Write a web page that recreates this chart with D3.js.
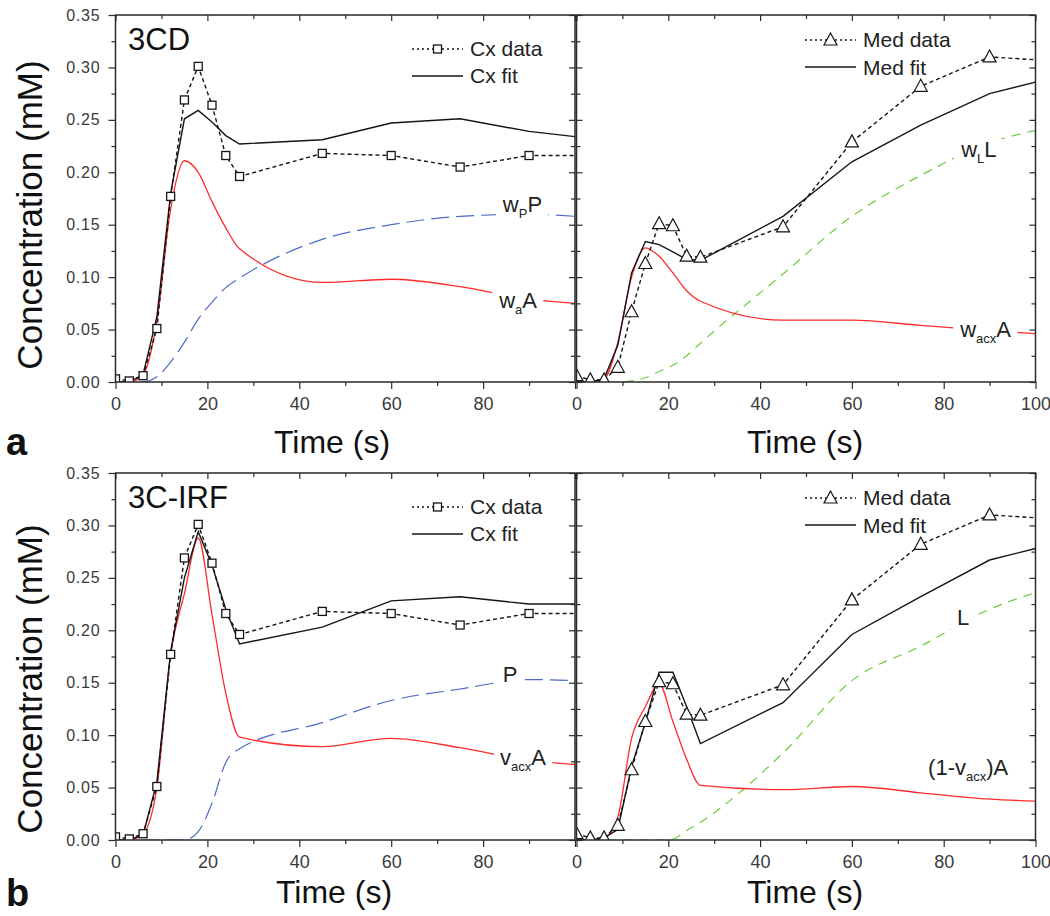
<!DOCTYPE html>
<html><head><meta charset="utf-8">
<script src="https://cdn.jsdelivr.net/npm/d3@7"></script>
<style>
body{margin:0;background:#fff}
svg{display:block}
text{font-family:"Liberation Sans",Arial,Helvetica,sans-serif}
</style>
</head><body>
<script>
// ---------------- DATA ----------------
const tData   = [0, 3, 6, 9, 12, 15, 18, 21, 24, 27, 45, 60, 75, 90, 105];
const cxData  = [0.003, 0.001, 0.006, 0.051, 0.177, 0.269, 0.301, 0.264, 0.216, 0.196, 0.218, 0.216, 0.205, 0.216, 0.216];
const medData = [0.006, 0.002, 0.002, 0.014, 0.067, 0.113, 0.151, 0.149, 0.120, 0.119, 0.148, 0.229, 0.282, 0.310, 0.306];

const tFit = [0, 3, 6, 9, 12, 15, 18, 21, 24, 27, 45, 60, 75, 90, 100];
// 3CD
const cxFit3CD  = [0, 0, 0.007, 0.062, 0.180, 0.251, 0.259, 0.248, 0.235, 0.227, 0.231, 0.247, 0.251, 0.239, 0.234];
const waA3CD    = [0, 0, 0.007, 0.058, 0.165, 0.211, 0.200, 0.172, 0.147, 0.127, 0.095, 0.098, 0.091, 0.079, 0.075];
const wpP3CD    = [0, 0, 0, 0.005, 0.019, 0.038, 0.060, 0.076, 0.090, 0.099, 0.136, 0.150, 0.158, 0.160, 0.158];
const medFit3CD = [0, 0, 0.003, 0.035, 0.104, 0.134, 0.131, 0.124, 0.117, 0.116, 0.158, 0.210, 0.245, 0.275, 0.286];
const wacxA3CD  = [0, 0, 0.003, 0.038, 0.100, 0.128, 0.120, 0.104, 0.087, 0.077, 0.059, 0.059, 0.054, 0.049, 0.046];
const wLL3CD    = [0, 0, 0, 0, 0.001, 0.004, 0.010, 0.016, 0.025, 0.037, 0.103, 0.158, 0.197, 0.228, 0.240];
// 3C-IRF
const cxFitIRF  = [0, 0, 0.005, 0.055, 0.180, 0.250, 0.294, 0.262, 0.220, 0.187, 0.203, 0.228, 0.232, 0.225, 0.225];
const vacxAIRF  = [0, 0, 0.006, 0.050, 0.177, 0.235, 0.288, 0.215, 0.140, 0.098, 0.089, 0.097, 0.088, 0.076, 0.072];
const pIRF      = [0, 0, 0, 0, 0, 0, 0.008, 0.035, 0.074, 0.087, 0.112, 0.133, 0.144, 0.153, 0.152];
const medFitIRF = [0, 0, 0.002, 0.010, 0.070, 0.112, 0.160, 0.160, 0.127, 0.092, 0.131, 0.196, 0.232, 0.267, 0.278];
const omvAIRF   = [0, 0, 0.002, 0.022, 0.097, 0.127, 0.149, 0.113, 0.077, 0.052, 0.048, 0.051, 0.045, 0.039, 0.037];
const lIRF      = [0, 0, 0, 0, 0, 0, 0, 0.001, 0.009, 0.017, 0.083, 0.152, 0.185, 0.220, 0.236];

const yTicks = [0, 0.05, 0.10, 0.15, 0.20, 0.25, 0.30, 0.35];
const yMinor = [0.025, 0.075, 0.125, 0.175, 0.225, 0.275, 0.325];
const xTicks = [0, 20, 40, 60, 80, 100];
const xMinor = [10, 30, 50, 70, 90];
const xLabelsLeft  = [0, 20, 40, 60, 80];
const xLabelsRight = [0, 20, 40, 60, 80, 100];

// ---------------- STYLE ----------------
const C = {red:"#ff2b2b", blue:"#4a6cc6", green:"#6fcb3f", black:"#151515", axis:"#2a2a2a", tick:"#3a3a3a"};
const FONT = '"Liberation Sans",Arial,Helvetica,sans-serif';

const svg = d3.select("body").append("svg").attr("width",1050).attr("height",916);
svg.append("rect").attr("width",1050).attr("height",916).attr("fill","#fff");

const rows = [{t:15, b:382}, {t:473, b:840}];
const cols = [{l:115.5, r:575}, {l:576.5, r:1035.5}];

let clipId = 0;
function drawPanel(ri, ci, cfg) {
  const row = rows[ri], col = cols[ci];
  const x = d3.scaleLinear().domain([0,100]).range([col.l, col.r]);
  const y = d3.scaleLinear().domain([0,0.35]).range([row.b, row.t]);
  const g = svg.append("g");
  const id = "clip" + (clipId++);
  g.append("clipPath").attr("id", id).append("rect")
    .attr("x", col.l).attr("y", row.t).attr("width", col.r - col.l).attr("height", row.b - row.t);
  const pg = g.append("g").attr("clip-path", `url(#${id})`);

  // model curves
  cfg.models.forEach(m => {
    const line = d3.line().x((d,i)=>x(tFit[i])).y(d=>y(d)).curve(d3.curveMonotoneX);
    pg.append("path").attr("d", line(m.v)).attr("fill","none")
      .attr("stroke", m.color).attr("stroke-width", m.w || 1.3)
      .attr("stroke-dasharray", m.dash || null);
  });
  // fit
  const fitLine = d3.line().x((d,i)=>x(tFit[i])).y(d=>y(d));
  pg.append("path").attr("d", fitLine(cfg.fit)).attr("fill","none")
    .attr("stroke", C.black).attr("stroke-width", 1.4);
  // data
  const dataLine = d3.line().x((d,i)=>x(tData[i])).y(d=>y(d));
  pg.append("path").attr("d", dataLine(cfg.data)).attr("fill","none")
    .attr("stroke", C.black).attr("stroke-width", 1.4).attr("stroke-dasharray","4,3");

  // labels with white gaps
  cfg.labels.forEach(L => {
    const lg = g.append("g");
    const txt = lg.append("text").attr("x", x(L.t)).attr("y", y(L.v))
      .attr("font-size", 22).attr("fill", "#222");
    let shift = 0;
    L.parts.forEach(p => {
      const sub = p[1] === "s";
      const target = sub ? 6 : 0;
      txt.append("tspan").text(p[0]).attr("font-size", sub ? 13 : 22)
        .attr("dy", target - shift);
      shift = target;
    });
    if (L.gap) {
      const bb = txt.node().getBBox();
      lg.insert("rect","text").attr("x", bb.x - 6).attr("y", bb.y + 2)
        .attr("width", bb.width + 12).attr("height", bb.height - 2).attr("fill","#fff");
    }
  });

  // markers
  const mg = pg.append("g");
  cfg.data.forEach((d,i) => {
    const cx = x(tData[i]), cy = y(d);
    if (cfg.marker === "square") {
      mg.append("rect").attr("x", cx-4).attr("y", cy-4).attr("width",8).attr("height",8)
        .attr("fill","#fff").attr("stroke",C.black).attr("stroke-width",1.3);
    } else {
      mg.append("path").attr("transform",`translate(${cx},${cy})`)
        .attr("d","M0,-7L6.5,5L-6.5,5Z").attr("fill","#fff").attr("stroke",C.black).attr("stroke-width",1.2);
    }
  });

  // axes
  const styleAxis = sel => {
    sel.select(".domain").remove();
    sel.selectAll(".tick line").attr("stroke", C.axis).attr("stroke-width", 1.2);
    sel.selectAll(".tick text").attr("fill", C.tick).attr("font-family", FONT);
  };
  // bottom
  g.append("g").attr("transform",`translate(0,${row.b})`)
    .call(d3.axisBottom(x).tickValues(xTicks).tickSize(7).tickPadding(8)
      .tickFormat(d => (ci===0 ? xLabelsLeft : xLabelsRight).includes(d) ? d : ""))
    .call(styleAxis).call(s=>s.selectAll(".tick text").attr("font-size",18));
  g.append("g").attr("transform",`translate(0,${row.b})`)
    .call(d3.axisBottom(x).tickValues(xMinor).tickSize(4).tickFormat("")).call(styleAxis);
  // top (inward)
  g.append("g").attr("transform",`translate(0,${row.t})`)
    .call(d3.axisBottom(x).tickValues(xTicks).tickSize(6).tickFormat("")).call(styleAxis);
  g.append("g").attr("transform",`translate(0,${row.t})`)
    .call(d3.axisBottom(x).tickValues(xMinor).tickSize(4).tickFormat("")).call(styleAxis);
  // left
  if (ci === 0) {
    g.append("g").attr("transform",`translate(${col.l},0)`)
      .call(d3.axisLeft(y).tickValues(yTicks).tickSize(7).tickPadding(8).tickFormat(d3.format(".2f")))
      .call(styleAxis).call(s=>s.selectAll(".tick text").attr("font-size",16).attr("letter-spacing",0.8));
    g.append("g").attr("transform",`translate(${col.l},0)`)
      .call(d3.axisLeft(y).tickValues(yMinor).tickSize(4).tickFormat("")).call(styleAxis);
  } else {
    g.append("g").attr("transform",`translate(${col.l},0)`)
      .call(d3.axisRight(y).tickValues(yTicks).tickSize(6).tickFormat("")).call(styleAxis);
    g.append("g").attr("transform",`translate(${col.l},0)`)
      .call(d3.axisRight(y).tickValues(yMinor).tickSize(4).tickFormat("")).call(styleAxis);
  }
  // right (inward)
  g.append("g").attr("transform",`translate(${col.r},0)`)
    .call(d3.axisLeft(y).tickValues(yTicks).tickSize(6).tickFormat("")).call(styleAxis);
  g.append("g").attr("transform",`translate(${col.r},0)`)
    .call(d3.axisLeft(y).tickValues(yMinor).tickSize(4).tickFormat("")).call(styleAxis);

  // frame
  g.append("rect").attr("x", col.l).attr("y", row.t).attr("width", col.r-col.l).attr("height", row.b-row.t)
    .attr("fill","none").attr("stroke", C.axis).attr("stroke-width", 1.5);

  // legend
  const lx0 = ci===0 ? col.l+296.5 : col.l+228.5;
  const lx1 = lx0 + 51;
  const tx  = lx1 + 7;
  const off = ci===0 ? [34, 40.5, 61, 68.3] : [25, 32, 52, 60];
  const lg = g.append("g");
  lg.append("line").attr("x1",lx0).attr("x2",lx1).attr("y1",row.t+off[0]).attr("y2",row.t+off[0])
    .attr("stroke",C.black).attr("stroke-width",1.3).attr("stroke-dasharray","2,3");
  const mx = (lx0+lx1)/2, my = row.t+off[0];
  if (cfg.marker === "square") {
    lg.append("rect").attr("x",mx-4).attr("y",my-4).attr("width",8).attr("height",8)
      .attr("fill","#fff").attr("stroke",C.black).attr("stroke-width",1.3);
  } else {
    lg.append("path").attr("transform",`translate(${mx},${my})`).attr("d","M0,-7L6.5,5L-6.5,5Z")
      .attr("fill","#fff").attr("stroke",C.black).attr("stroke-width",1.2);
  }
  lg.append("text").attr("x",tx).attr("y",row.t+off[1]).attr("font-size",21).attr("fill","#222").text(cfg.legend[0]);
  lg.append("line").attr("x1",lx0).attr("x2",lx1).attr("y1",row.t+off[2]).attr("y2",row.t+off[2])
    .attr("stroke",C.black).attr("stroke-width",1.4);
  lg.append("text").attr("x",tx).attr("y",row.t+off[3]).attr("font-size",21).attr("fill","#222").text(cfg.legend[1]);

  if (cfg.title) {
    g.append("text").attr("x", col.l+12.5).attr("y", row.t+35).attr("font-size",31).attr("fill","#111").text(cfg.title);
  }
}

drawPanel(0,0,{
  title:"3CD", marker:"square", data:cxData, fit:cxFit3CD, legend:["Cx data","Cx fit"],
  models:[
    {v:wpP3CD, color:C.blue, dash:"18,7", w:1.2},
    {v:waA3CD, color:C.red, w:1.3}
  ],
  labels:[
    {t:84.3, v:0.162, parts:[["w","n"],["P","s"],["P","n"]], gap:true},
    {t:83.5, v:0.0706, parts:[["w","n"],["a","s"],["A","n"]], gap:true}
  ]
});
drawPanel(0,1,{
  marker:"tri", data:medData, fit:medFit3CD, legend:["Med data","Med fit"],
  models:[
    {v:wLL3CD, color:C.green, dash:"9,7", w:1.2},
    {v:wacxA3CD, color:C.red, w:1.3}
  ],
  labels:[
    {t:83.8, v:0.2146, parts:[["w","n"],["L","s"],["L","n"]], gap:true},
    {t:83.6, v:0.0429, parts:[["w","n"],["acx","s"],["A","n"]], gap:true}
  ]
});
drawPanel(1,0,{
  title:"3C-IRF", marker:"square", data:cxData, fit:cxFitIRF, legend:["Cx data","Cx fit"],
  models:[
    {v:pIRF, color:C.blue, dash:"18,7", w:1.2},
    {v:vacxAIRF, color:C.red, w:1.3}
  ],
  labels:[
    {t:84.3, v:0.1507, parts:[["P","n"]], gap:true},
    {t:83.7, v:0.0715, parts:[["v","n"],["acx","s"],["A","n"]], gap:true}
  ]
});
drawPanel(1,1,{
  marker:"tri", data:medData, fit:medFitIRF, legend:["Med data","Med fit"],
  models:[
    {v:lIRF, color:C.green, dash:"9,7", w:1.2},
    {v:omvAIRF, color:C.red, w:1.3}
  ],
  labels:[
    {t:82.9, v:0.205, parts:[["L","n"]], gap:true},
    {t:76.6, v:0.062, parts:[["(1-v","n"],["acx","s"],[")A","n"]], gap:false}
  ]
});

// axis titles
[215, 679].forEach(cy => {
  svg.append("text").attr("transform",`translate(42,${cy}) rotate(-90)`)
    .attr("text-anchor","middle").attr("font-size",35).attr("fill","#111").text("Concentration (mM)");
});
[[332,453],[805,453],[334,903],[805,903]].forEach(([cx,cy]) => {
  svg.append("text").attr("x",cx).attr("y",cy).attr("text-anchor","middle")
    .attr("font-size",32).attr("fill","#111").text("Time (s)");
});
svg.append("text").attr("x",6).attr("y",455).attr("font-size",38).attr("font-weight","bold").attr("fill","#111").text("a");
svg.append("text").attr("x",6).attr("y",906).attr("font-size",38).attr("font-weight","bold").attr("fill","#111").text("b");
</script>
</body></html>
